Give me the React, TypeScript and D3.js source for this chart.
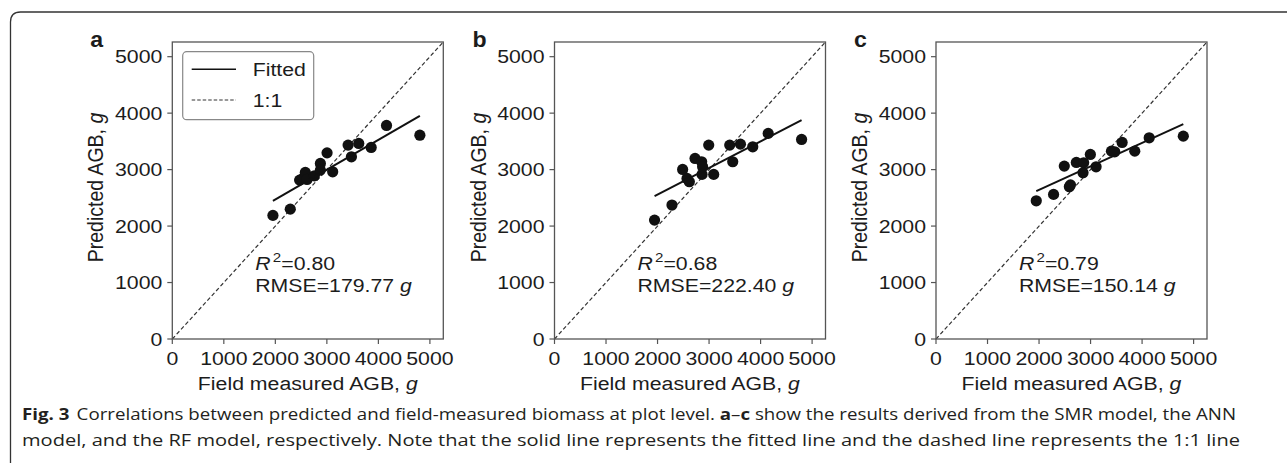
import React from "react";
import * as d3 from "d3";

// ---- data ----
const panelLabels = ["a", "b", "c"];
const tickValues = [0, 1000, 2000, 3000, 4000, 5000];

const aMeasured = [1953, 2290, 2471, 2530, 2582, 2615, 2757, 2874, 2874, 3004, 3113, 3412, 3477, 3619, 3860, 4158, 4805];
const aPredicted = [2189, 2300, 2814, 2840, 2950, 2826, 2890, 3109, 2991, 3297, 2961, 3434, 3227, 3463, 3393, 3782, 3610];

const bMeasured = [1942, 2280, 2487, 2572, 2617, 2728, 2856, 2875, 2864, 2993, 3090, 3401, 3459, 3609, 3848, 4148, 4796];
const bPredicted = [2106, 2372, 3003, 2844, 2785, 3198, 3139, 3050, 2915, 3434, 2915, 3434, 3139, 3451, 3404, 3641, 3534];

const cMeasured = [1946, 2282, 2588, 2610, 2490, 2724, 2866, 2854, 2996, 3107, 3405, 3469, 3613, 3858, 4138, 4800];
const cPredicted = [2448, 2561, 2696, 2730, 3062, 3127, 3120, 2944, 3269, 3050, 3327, 3315, 3481, 3327, 3563, 3593];

const aFitX = [1953, 4805];
const aFitY = [2448, 3952];
const bFitX = [1942, 4796];
const bFitY = [2531, 3876];
const cFitX = [1946, 4800];
const cFitY = [2619, 3805];

const r2Values = ["0.80", "0.68", "0.79"];
const rmseValues = ["179.77", "222.40", "150.14"];

const panels = [
  { label: panelLabels[0], xs: aMeasured, ys: aPredicted, fx: aFitX, fy: aFitY, r2: r2Values[0], rmse: rmseValues[0], legend: true },
  { label: panelLabels[1], xs: bMeasured, ys: bPredicted, fx: bFitX, fy: bFitY, r2: r2Values[1], rmse: rmseValues[1], legend: false },
  { label: panelLabels[2], xs: cMeasured, ys: cPredicted, fx: cFitX, fy: cFitY, r2: r2Values[2], rmse: rmseValues[2], legend: false },
];

// ---- layout ----
const W = 1287;
const H = 463;
const panelLefts = [172.3, 554.5, 936];
const plotW = 271;
const plotTop = 42;
const plotBottom = 339;
const domainMax = 5260;
const FONT = "'Liberation Sans', Arial, Helvetica, sans-serif";
const FS = 19;
const SX = 1.12;
const INK = "#1c1c1c";

function SText({ x, y, anchor = "start", size = FS, weight = "normal", children, rotate = 0, sx = SX }: any) {
  return (
    <g transform={`translate(${x},${y}) scale(${sx},1)${rotate ? ` rotate(${rotate})` : ""}`}>
      <text x={0} y={0} textAnchor={anchor} fontSize={size} fontWeight={weight} fontFamily={FONT} fill={INK}>
        {children}
      </text>
    </g>
  );
}

function Panel({ p, left }: any) {
  const x = d3.scaleLinear().domain([0, domainMax]).range([left, left + plotW]);
  const y = d3.scaleLinear().domain([0, domainMax]).range([plotBottom, plotTop]);
  const line = d3.line<[number, number]>().x((d) => x(d[0])).y((d) => y(d[1]));
  const fitPts: [number, number][] = p.fx.map((v: number, i: number) => [v, p.fy[i]]);
  const diag: [number, number][] = [[0, 0], [domainMax, domainMax]];
  const annX = x(1610);
  const annY = y(1220);
  return (
    <g>
      <path d={line(diag) || ""} stroke="#333" strokeWidth={1.2} strokeDasharray="4,2.5" fill="none" />
      {p.xs.map((v: number, i: number) => (
        <circle key={i} cx={x(v)} cy={y(p.ys[i])} r={5.6} fill="#111" />
      ))}
      <path d={line(fitPts) || ""} stroke="#111" strokeWidth={2} fill="none" />
      <rect x={left} y={plotTop} width={plotW} height={plotBottom - plotTop} fill="none" stroke="#555" strokeWidth={1.3} />
      {tickValues.map((t) => (
        <g key={"x" + t}>
          <line x1={x(t)} x2={x(t)} y1={plotBottom} y2={plotBottom + 5} stroke="#555" strokeWidth={1.2} />
          <SText x={x(t)} y={365} anchor="middle">{String(t)}</SText>
        </g>
      ))}
      {tickValues.map((t) => (
        <g key={"y" + t}>
          <line x1={left - 5} x2={left} y1={y(t)} y2={y(t)} stroke="#555" strokeWidth={1.2} />
          <SText x={left - 10} y={y(t) + 6.8} anchor="end">{String(t)}</SText>
        </g>
      ))}
      <SText x={left + plotW / 2} y={390} anchor="middle">
        Field measured AGB, <tspan fontStyle="italic">g</tspan>
      </SText>
      <SText x={left - 69} y={(plotTop + plotBottom) / 2 - 3} anchor="middle" rotate={-90} size={19.5}>
        Predicted AGB, <tspan fontStyle="italic">g</tspan>
      </SText>
      <SText x={left - 82} y={47} weight="bold" size={22} sx={1.05}>{p.label}</SText>
      <SText x={annX} y={annY}>
        <tspan fontStyle="italic">R</tspan>
        <tspan fontSize={13.5} dy={-8.5} dx={2}>2</tspan>
        <tspan dy={8.5}>={p.r2}</tspan>
      </SText>
      <SText x={annX} y={annY + 22}>
        RMSE={p.rmse} <tspan fontStyle="italic">g</tspan>
      </SText>
      {p.legend && (
        <g>
          <rect x={left + 10.4} y={51.7} width={131} height={68} rx={4} fill="white" stroke="#888" strokeWidth={1.2} />
          <line x1={left + 19.4} x2={left + 63.7} y1={69.3} y2={69.3} stroke="#111" strokeWidth={1.6} />
          <SText x={left + 80.4} y={76}>Fitted</SText>
          <line x1={left + 19.4} x2={left + 63.7} y1={100} y2={100} stroke="#333" strokeWidth={1.1} strokeDasharray="3.5,2" />
          <SText x={left + 80.4} y={107}>1:1</SText>
        </g>
      )}
    </g>
  );
}

export default function App() {
  const capFont = "'Open Sans', 'Noto Sans', sans-serif";
  return (
    <svg width={W} height={H} style={{ position: "absolute", left: 0, top: 0, background: "white" }}>
      <rect x={0} y={0} width={W} height={H} fill="white" />
      <path d={`M10.5,${H + 2} L10.5,22 Q10.5,12 20.5,12 L${W + 2},12`} fill="none" stroke="#333" strokeWidth={1.3} />
      {panels.map((p, i) => (
        <Panel key={p.label} p={p} left={panelLefts[i]} />
      ))}
      <text x={22} y={420} fontSize={15.5} fontFamily={capFont} fill="#231f20" textLength={1214} lengthAdjust="spacingAndGlyphs">
        <tspan fontWeight="bold">Fig. 3</tspan>
        <tspan dx={6}>Correlations between predicted and field-measured biomass at plot level. </tspan>
        <tspan fontWeight="bold">a</tspan>
        <tspan>–</tspan>
        <tspan fontWeight="bold">c</tspan>
        <tspan> show the results derived from the SMR model, the ANN</tspan>
      </text>
      <text x={22} y={446} fontSize={15.5} fontFamily={capFont} fill="#231f20" textLength={1218} lengthAdjust="spacingAndGlyphs">
        model, and the RF model, respectively. Note that the solid line represents the fitted line and the dashed line represents the 1:1 line
      </text>
    </svg>
  );
}
